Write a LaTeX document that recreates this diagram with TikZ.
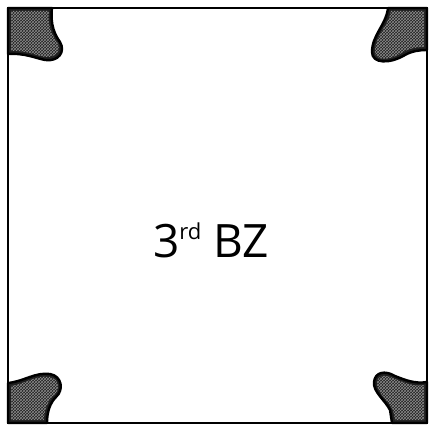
\documentclass[tikz,border=0pt]{standalone}
\usepackage{fontspec}
\setmainfont{Open Sans}
\usetikzlibrary{patterns}

\begin{document}
\begin{tikzpicture}[
  x=1pt, y=-1pt,
  zone_border/.style={draw=black, line width=1.8pt},
  corner_piece/.style={fill=black!88, draw=black, line width=2.4pt, line join=round},
  corner_grain/.style={pattern=crosshatch, pattern color=black!45}
]
\useasboundingbox (0,0) rectangle (435,430);

% Corner pieces
\path[corner_piece] (8,8) -- (52,8) .. controls (50,25) and (55,35) .. (60,42)
  .. controls (66,52) and (58,62) .. (45,60) .. controls (35,58) and (25,53) .. (8,54) -- cycle;
\path[corner_piece] (388,8) .. controls (386,25) and (372,35) .. (372,52)
  .. controls (372,64) and (390,64) .. (405,55) .. controls (412,51) and (420,50) .. (427,50) -- (427,8) -- cycle;
\path[corner_piece] (8,383) .. controls (25,381) and (35,372) .. (50,374)
  .. controls (62,376) and (64,390) .. (56,397) .. controls (50,403) and (47,412) .. (47,423) -- (8,423) -- cycle;
\path[corner_piece] (427,382) .. controls (415,384) and (405,380) .. (395,376)
  .. controls (385,370) and (375,372) .. (374,382) .. controls (373,392) and (385,400) .. (390,410) -- (392,423) -- (427,423) -- cycle;

% Grain on the pieces
\path[corner_grain] (11,11) -- (49,11) .. controls (47,25) and (52,35) .. (57,42)
  .. controls (62,50) and (56,58) .. (45,57) .. controls (35,55) and (25,50) .. (11,51) -- cycle;
\path[corner_grain] (391,11) .. controls (389,25) and (375,35) .. (375,52)
  .. controls (375,61) and (390,61) .. (403,52) .. controls (410,48) and (418,47) .. (424,47) -- (424,11) -- cycle;
\path[corner_grain] (11,386) .. controls (25,384) and (35,375) .. (50,377)
  .. controls (59,379) and (61,390) .. (53,396) .. controls (47,402) and (44,412) .. (44,420) -- (11,420) -- cycle;
\path[corner_grain] (424,385) .. controls (415,387) and (405,383) .. (395,379)
  .. controls (385,374) and (378,375) .. (377,382) .. controls (376,392) and (388,400) .. (393,410) -- (395,420) -- (424,420) -- cycle;

% Zone
\draw[zone_border] (8,8) rectangle (427,423);

% Label
\node[anchor=base, inner sep=0pt] (zone_label) at (211,257)
  {\fontsize{46}{46}\selectfont 3\raisebox{18pt}{\fontsize{22}{22}\selectfont rd} BZ};

\end{tikzpicture}
\end{document}
